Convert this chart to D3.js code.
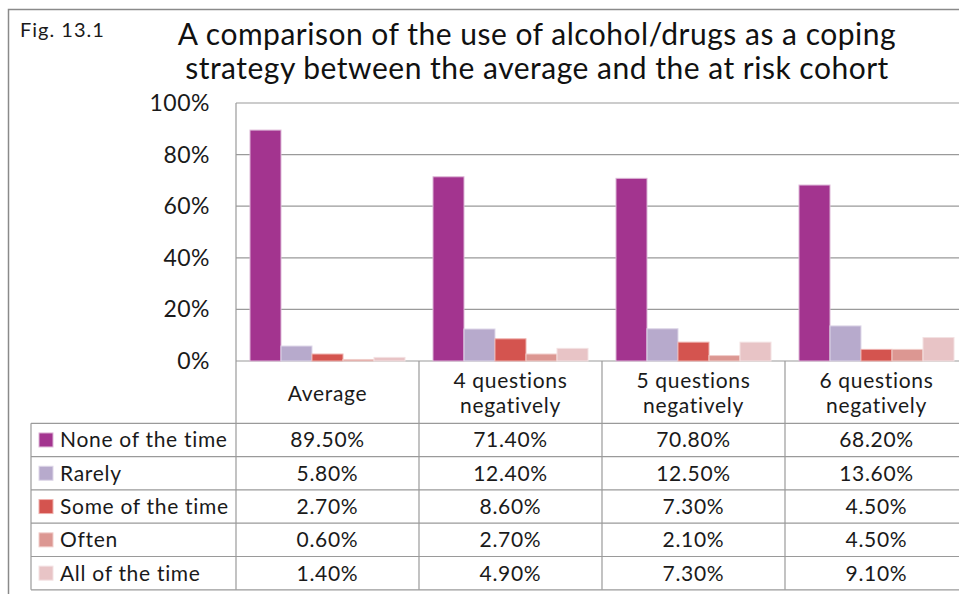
<!DOCTYPE html>
<html>
<head>
<meta charset="utf-8">
<script src="https://cdn.jsdelivr.net/npm/d3@7"></script>
<style>
  body { margin: 0; background: #fff; }
  svg { display: block; font-family: Lato, "Open Sans", sans-serif; }
</style>
</head>
<body>
<div id="chart"></div>
<script>
// Data
var categories = ["Average", "4 questions negatively", "5 questions negatively", "6 questions negatively"];
var categoryLines = [["Average"], ["4 questions", "negatively"], ["5 questions", "negatively"], ["6 questions", "negatively"]];
var seriesNames = ["None of the time", "Rarely", "Some of the time", "Often", "All of the time"];
var noneOfTheTime = [89.5, 71.4, 70.8, 68.2];
var rarely = [5.8, 12.4, 12.5, 13.6];
var someOfTheTime = [2.7, 8.6, 7.3, 4.5];
var often = [0.6, 2.7, 2.1, 4.5];
var allOfTheTime = [1.4, 4.9, 7.3, 9.1];
var yTicks = [0, 20, 40, 60, 80, 100];
var seriesColors = ["#a3348f", "#b7aacc", "#d4544f", "#dc9792", "#e8c4c6"];
var seriesStrokes = ["#dcb6d6", "#ddd6e8", "#eeb0ad", "#f0cdca", "#f3e1e2"];

var seriesValues = [noneOfTheTime, rarely, someOfTheTime, often, allOfTheTime];

var width = 959, height = 594;
var plotLeft = 236, plotRight = 968, plotTop = 103, plotBottom = 361;
var tableLeft = 31, rowHeight = 33.3, headerBottom = 423.3;
var gridColor = "#9a9a9a";
var textColor = "#1a1a1a";

var svg = d3.select("#chart").append("svg")
    .attr("width", width)
    .attr("height", height);

// outer frame (runs off to the right like the original)
svg.append("rect")
    .attr("x", 8.5).attr("y", 9.5)
    .attr("width", 1000).attr("height", 620)
    .attr("fill", "none")
    .attr("stroke", "#8a8a8a")
    .attr("stroke-width", 1.5);

// title
svg.append("text")
    .attr("x", 20).attr("y", 37)
    .attr("font-size", 20)
    .attr("letter-spacing", 1)
    .attr("fill", textColor)
    .text("Fig. 13.1");

var titleLines = ["A comparison of the use of alcohol/drugs as a coping",
    "strategy between the average and the at risk cohort"];
svg.append("g").selectAll("text")
    .data(titleLines)
    .join("text")
    .attr("x", 537)
    .attr("y", function (d, i) { return 45 + i * 34; })
    .attr("text-anchor", "middle")
    .attr("font-size", 30)
    .attr("letter-spacing", 0.5)
    .attr("fill", "#111")
    .text(function (d) { return d; });

// scales
var x0 = d3.scaleBand()
    .domain(categories)
    .range([plotLeft, plotRight])
    .paddingInner(0.153)
    .paddingOuter(0.0765);

var x1 = d3.scaleBand()
    .domain(seriesNames)
    .range([0, x0.bandwidth()]);

var y = d3.scaleLinear()
    .domain([0, 100])
    .range([plotBottom, plotTop]);

// gridlines
svg.append("g").selectAll("line")
    .data(yTicks)
    .join("line")
    .attr("x1", plotLeft).attr("x2", plotRight)
    .attr("y1", function (d) { return y(d); })
    .attr("y2", function (d) { return y(d); })
    .attr("stroke", gridColor)
    .attr("stroke-width", 1.2);

// y axis labels
svg.append("g").selectAll("text")
    .data(yTicks)
    .join("text")
    .attr("x", 210)
    .attr("y", function (d) { return y(d) + 8; })
    .attr("text-anchor", "end")
    .attr("font-size", 23)
    .attr("letter-spacing", 0.5)
    .attr("fill", textColor)
    .text(function (d) { return d + "%"; });

// bars
var groups = svg.append("g").selectAll("g")
    .data(categories)
    .join("g")
    .attr("transform", function (d) { return "translate(" + x0(d) + ",0)"; });

groups.selectAll("rect")
    .data(function (d, ci) {
        return seriesNames.map(function (s, si) {
            return {series: s, index: si, value: seriesValues[si][ci]};
        });
    })
    .join("rect")
    .attr("x", function (d) { return x1(d.series); })
    .attr("y", function (d) { return y(d.value); })
    .attr("width", x1.bandwidth())
    .attr("height", function (d) { return y(0) - y(d.value); })
    .attr("fill", function (d) { return seriesColors[d.index]; })
    .attr("stroke", function (d) { return seriesStrokes[d.index]; })
    .attr("stroke-width", 1);

// plot left border
svg.append("line")
    .attr("x1", plotLeft).attr("x2", plotLeft)
    .attr("y1", plotTop).attr("y2", plotBottom)
    .attr("stroke", gridColor).attr("stroke-width", 1.2);

// data table
var table = svg.append("g").attr("stroke", gridColor).attr("stroke-width", 1.2);
var tableBottom = headerBottom + rowHeight * seriesNames.length;

// vertical lines at category edges
var colEdges = categories.map(function (c) { return x0(c) - x0.step() * x0.paddingInner() / 2; });
colEdges.push(plotRight);
table.selectAll("line.v")
    .data(colEdges)
    .join("line")
    .attr("class", "v")
    .attr("x1", function (d) { return d; }).attr("x2", function (d) { return d; })
    .attr("y1", plotBottom).attr("y2", tableBottom);

table.append("line")
    .attr("x1", tableLeft).attr("x2", tableLeft)
    .attr("y1", headerBottom).attr("y2", tableBottom);

var rowEdges = d3.range(seriesNames.length + 1).map(function (i) { return headerBottom + i * rowHeight; });
table.selectAll("line.h")
    .data(rowEdges)
    .join("line")
    .attr("class", "h")
    .attr("x1", tableLeft).attr("x2", plotRight)
    .attr("y1", function (d) { return d; }).attr("y2", function (d) { return d; });

// header labels
var header = svg.append("g").selectAll("text")
    .data(categoryLines)
    .join("text")
    .attr("text-anchor", "middle")
    .attr("font-size", 21)
    .attr("letter-spacing", 0.7)
    .attr("fill", textColor)
    .attr("x", function (d, i) { return x0(categories[i]) + x0.bandwidth() / 2; })
    .attr("y", function (d) { return d.length === 1 ? 401 : 388; });

header.selectAll("tspan")
    .data(function (d) { return d; })
    .join("tspan")
    .attr("x", function () { return d3.select(this.parentNode).attr("x"); })
    .attr("dy", function (d, i) { return i === 0 ? 0 : 25; })
    .text(function (d) { return d; });

// row labels with legend keys
var rows = svg.append("g").selectAll("g")
    .data(seriesNames)
    .join("g")
    .attr("transform", function (d, i) { return "translate(0," + (headerBottom + i * rowHeight) + ")"; });

rows.append("rect")
    .attr("x", 39).attr("y", rowHeight / 2 - 7)
    .attr("width", 14).attr("height", 14)
    .attr("fill", function (d, i) { return seriesColors[i]; })
    .attr("stroke", function (d, i) { return seriesStrokes[i]; });

rows.append("text")
    .attr("x", 60).attr("y", rowHeight / 2 + 7.5)
    .attr("font-size", 21)
    .attr("letter-spacing", 0.7)
    .attr("fill", textColor)
    .text(function (d) { return d; });

rows.selectAll("text.val")
    .data(function (d, i) { return seriesValues[i]; })
    .join("text")
    .attr("class", "val")
    .attr("x", function (d, ci) { return x0(categories[ci]) + x0.bandwidth() / 2; })
    .attr("y", rowHeight / 2 + 7.5)
    .attr("text-anchor", "middle")
    .attr("font-size", 21)
    .attr("letter-spacing", 0.7)
    .attr("fill", textColor)
    .text(function (d) { return d.toFixed(2) + "%"; });
</script>
</body>
</html>
